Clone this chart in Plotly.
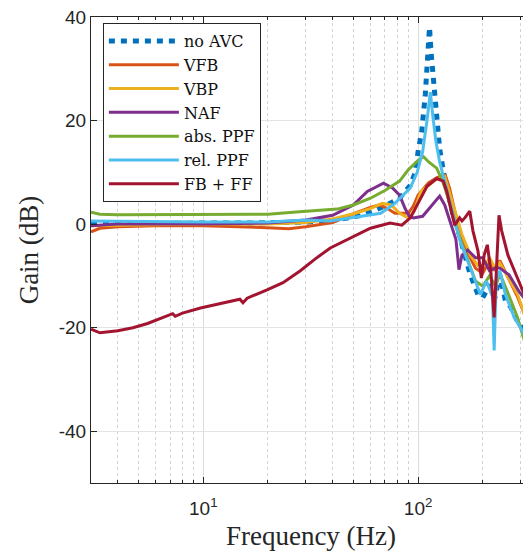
import plotly.graph_objects as go
import numpy as np

# ---------------- data ----------------
f_noavc = [3, 4, 6, 10, 15, 20, 30, 40, 55, 70, 82, 92, 97, 100, 104, 108, 111, 113, 115, 118, 122, 126, 132, 138, 145, 153, 165, 175, 190, 200, 215, 228, 240, 255, 270, 295, 320, 336]
db_noavc = [0.0, 0.1, 0.1, 0.2, 0.2, 0.2, 0.4, 0.7, 1.7, 3.5, 5.0, 7.5, 10.0, 14.0, 18.0, 25.0, 33.0, 38.0, 33.0, 27.0, 21.0, 14.5, 9.5, 5.5, 2.0, -1.0, -5.5, -9.8, -13.6, -14.2, -11.7, -14.2, -9.8, -14.8, -16.0, -19.4, -21.0, -22.5]

f_vfb = [3, 3.3, 4, 6, 10, 15, 20, 25, 30, 40, 45, 50, 60, 66, 72, 78, 90, 95, 100, 112, 123, 134, 140, 147, 157, 170, 185, 200, 215, 228, 240, 260, 290, 310, 336]
db_vfb = [-1.5, -0.8, -0.5, -0.3, -0.3, -0.5, -0.7, -0.9, -0.5, 0.3, 1.2, 2.0, 3.2, 3.7, 3.0, 2.1, 2.1, 3.5, 5.6, 8.0, 9.0, 9.4, 7.0, 3.0, -2.0, -5.5, -8.5, -9.5, -7.0, -9.0, -7.0, -10.0, -14.0, -17.0, -21.0]

f_vbp = [3, 4, 10, 20, 30, 40, 50, 60, 68, 75, 82, 90, 96, 103, 120, 133, 140, 150, 160, 175, 190, 205, 215, 228, 240, 260, 290, 310, 336]
db_vbp = [-0.3, -0.2, 0.0, 0.0, 0.3, 1.0, 2.0, 3.0, 4.0, 3.7, 2.1, 1.2, 2.5, 6.3, 8.5, 9.2, 6.0, 2.0, -2.0, -6.0, -8.0, -8.0, -6.5, -8.5, -7.5, -10.0, -13.5, -17.0, -21.0]

f_naf = [3, 4, 10, 20, 30, 40, 50, 58, 69, 76, 82, 87, 91, 95, 105, 115, 126, 133, 140, 150, 155, 160, 170, 185, 200, 215, 228, 240, 265, 295, 336]
db_naf = [-0.3, 0.0, 0.0, 0.2, 0.8, 1.7, 3.7, 6.3, 7.9, 7.0, 5.6, 3.0, 1.5, 1.2, 1.5, 3.5, 5.4, 3.7, 1.0, -3.0, -8.8, -6.0, -5.0, -6.5, -6.5, -9.0, -8.5, -8.5, -9.8, -13.0, -16.0]

f_absppf = [3, 3.3, 4, 6, 10, 20, 28, 42, 50, 60, 70, 82, 90, 100, 106, 112, 122, 130, 138, 145, 157, 170, 185, 200, 215, 230, 240, 260, 290, 310, 336]
db_absppf = [2.3, 1.9, 1.8, 1.8, 1.8, 1.9, 2.4, 2.9, 3.7, 5.0, 6.5, 8.3, 10.5, 12.3, 13.0, 12.0, 10.8, 8.3, 5.0, 1.5, -3.0, -7.0, -11.0, -12.0, -10.0, -12.0, -9.5, -13.0, -18.0, -22.0, -28.0]

f_relppf = [3, 5, 10, 20, 30, 39, 55, 67, 78, 92, 99, 105, 110, 114, 117, 121, 126, 133, 145, 157, 170, 180, 195, 208, 222, 226, 231, 240, 255, 280, 300, 320, 336]
db_relppf = [0.6, 0.5, 0.4, 0.4, 0.8, 0.6, 1.5, 2.1, 4.0, 7.0, 10.0, 14.0, 20.0, 25.5, 21.0, 16.0, 12.0, 8.0, 2.0, -3.3, -7.0, -9.8, -13.6, -11.0, -14.0, -24.4, -11.0, -9.0, -13.6, -18.0, -20.0, -22.0, -23.0]

f_fbff = [3, 3.3, 4, 4.7, 5.5, 6.8, 7.2, 7.4, 8, 9.7, 12, 13.8, 14.8, 15.3, 16, 19.8, 23.5, 28.3, 33, 39, 48, 60, 74, 84, 92, 97, 103, 110, 122, 127, 131, 136, 148, 156, 160, 165, 174, 180, 190, 197, 203, 210, 218, 226, 233, 238, 245, 262, 290, 315, 336]
db_fbff = [-20.3, -21.0, -20.6, -20.0, -19.2, -17.7, -17.3, -17.8, -17.2, -16.2, -15.4, -14.8, -14.5, -15.2, -14.3, -12.7, -11.3, -9.0, -6.8, -4.6, -2.7, -0.8, 0.2, -0.2, 1.2, 3.0, 5.0, 7.3, 8.8, 8.5, 8.3, 6.3, -0.2, 1.2, 0.6, 1.2, 2.5, -1.3, -5.2, -10.4, -6.0, -4.0, -9.0, -18.0, -4.6, 1.7, -1.3, -6.0, -10.4, -14.0, -16.0]

series_names = ["no AVC", "VFB", "VBP", "NAF", "abs. PPF", "rel. PPF", "FB + FF"]
series_f = [f_noavc, f_vfb, f_vbp, f_naf, f_absppf, f_relppf, f_fbff]
series_db = [db_noavc, db_vfb, db_vbp, db_naf, db_absppf, db_relppf, db_fbff]
colors = ["#0072BD", "#D95319", "#EDB120", "#7E2F8E", "#77AC30", "#4DBEEE", "#A2142F"]

x_major = [10, 100]
x_major_text = ["10<sup>1</sup>", "10<sup>2</sup>"]
x_minor = [3, 4, 5, 6, 7, 8, 9, 20, 30, 40, 50, 60, 70, 80, 90, 200, 300]
y_ticks = [-40, -20, 0, 20, 40]
y_ticktext = ["-40", "-20", "0", "20", "40"]

# ---------------- figure ----------------
fig = go.Figure()
for name, f, db, c in zip(series_names, series_f, series_db, colors):
    if name == "no AVC":
        line = dict(color=c, width=5, dash="6px,6px")
    else:
        line = dict(color=c, width=3)
    fig.add_trace(go.Scatter(x=f, y=db, mode="lines", name=name, line=line))

axis_color = "#262626"
serif = "Liberation Serif"
sans = "Liberation Sans, Arial, sans-serif"

# page body has an 8px margin, so the figure is sized 8px smaller
fig.update_layout(
    width=523, height=548,
    margin=dict(l=83, r=0, t=9, b=73),
    paper_bgcolor="white", plot_bgcolor="white",
    showlegend=True,
    legend=dict(
        x=0.027, y=0.987, xanchor="left", yanchor="top",
        bgcolor="white", bordercolor=axis_color, borderwidth=1,
        font=dict(family="DejaVu Serif", size=16, color="#111111"),
        itemwidth=70, tracegroupgap=0,
    ),
    xaxis=dict(
        type="log", range=[np.log10(3), 2.5256], automargin=False,
        tickmode="array", tickvals=x_major, ticktext=x_major_text,
        ticks="inside", ticklen=6, tickcolor=axis_color, ticklabelstandoff=8,
        ticklabeloverflow="allow",
        showline=True, linecolor=axis_color, linewidth=1, mirror="allticks",
        showgrid=True, gridcolor="#dcdcdc", gridwidth=1,
        tickfont=dict(family=sans, size=19, color=axis_color),
        minor=dict(tickmode="array", tickvals=x_minor, ticks="inside", ticklen=3,
                   tickcolor=axis_color, showgrid=True, gridcolor="#d2d2d2",
                   griddash="dot", gridwidth=1),
        title=dict(text="Frequency (Hz)", font=dict(family=serif, size=27, color=axis_color), standoff=8),
        zeroline=False,
    ),
    yaxis=dict(
        range=[-50, 40], automargin=False,
        tickmode="array", tickvals=y_ticks, ticktext=y_ticktext,
        ticks="inside", ticklen=6, tickcolor=axis_color,
        ticklabeloverflow="allow",
        showline=True, linecolor=axis_color, linewidth=1,
        showgrid=True, gridcolor="#e3e3e3", gridwidth=1,
        tickfont=dict(family=sans, size=19, color=axis_color),
        title=dict(text="Gain (dB)", font=dict(family=serif, size=27, color=axis_color), standoff=12),
        zeroline=False,
    ),
)

fig.write_html("out.html")
